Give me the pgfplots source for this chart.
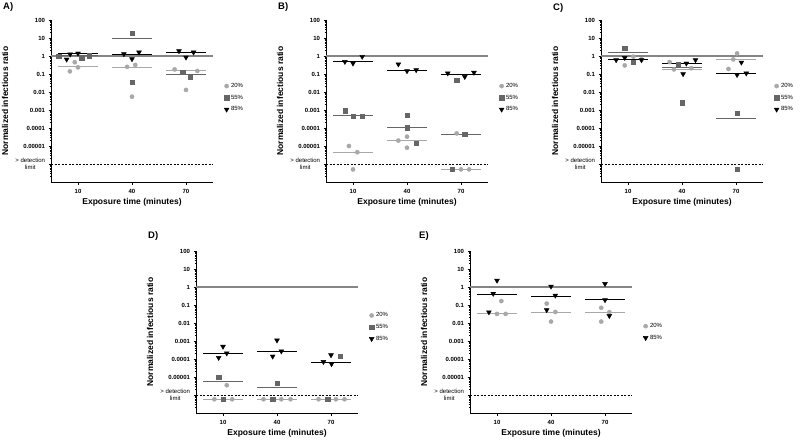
\documentclass[border=0pt]{standalone}
\usepackage{fontspec}
\setmainfont{Liberation Sans}
\usepackage{pgfplots}
\pgfplotsset{compat=1.18}

\definecolor{c20}{HTML}{A8A8A8}
\definecolor{c55}{HTML}{666666}
\definecolor{refline}{HTML}{858585}

\pgfplotsset{
  scale only axis, width=162pt, height=162pt,
  ymin=1e-7, ymax=100,
  xmin=-0.5, xmax=2.5,
  axis x line*=bottom, axis y line*=left,
  axis line style={line width=0.8pt, black},
  unbounded coords=jump,
  xtick={0,1,2}, xticklabels={10,40,70},
  ytick={1e-6,1e-5,1e-4,1e-3,1e-2,1e-1,1,10,100},
  yticklabels={{\mdseries\shortstack{> detection\\limit}},0.00001,0.0001,0.001,0.01,0.1,1,10,100},
  minor ytick={2e-7,3e-7,4e-7,5e-7,6e-7,7e-7,8e-7,9e-7,
    2e-6,3e-6,4e-6,5e-6,6e-6,7e-6,8e-6,9e-6,
    2e-5,3e-5,4e-5,5e-5,6e-5,7e-5,8e-5,9e-5,
    2e-4,3e-4,4e-4,5e-4,6e-4,7e-4,8e-4,9e-4,
    2e-3,3e-3,4e-3,5e-3,6e-3,7e-3,8e-3,9e-3,
    0.02,0.03,0.04,0.05,0.06,0.07,0.08,0.09,
    0.2,0.3,0.4,0.5,0.6,0.7,0.8,0.9,
    2,3,4,5,6,7,8,9,20,30,40,50,60,70,80,90},
  tick align=outside, major tick length=2.5pt, minor tick length=1.2pt,
  tick style={black, line width=0.6pt},
  tick label style={font=\fontsize{6}{6.5}\selectfont\bfseries},
  xticklabel style={yshift=-1.5pt},
  xlabel={Exposure time (minutes)}, ylabel={Normalized infectious ratio},
  every axis x label/.style={at={(axis description cs:0.5,-0.128)},anchor=center,
    font=\fontsize{8.5}{10}\selectfont\bfseries},
  every axis y label/.style={at={(axis description cs:-0.284,0.5)},anchor=center,rotate=90,
    font=\fontsize{8.5}{10}\selectfont\bfseries},
  legend style={draw=none, fill=none, font=\fontsize{6}{7}\selectfont,
    at={(axis description cs:1.068,0.52)}, anchor=west, inner sep=0pt, row sep=2pt},
  legend cell align=left,
  p20/.style={only marks, mark=*, mark size=2.1pt, color=c20},
  p55/.style={only marks, mark=square*, mark size=2.2pt, color=c55},
  p85/.style={only marks, mark=triangle*, mark size=2.8pt, color=black, mark options={rotate=180}},
  med/.style={no marks, line width=1pt, forget plot},
}

% reference lines at 1 and at the detection limit
\newcommand{\reflines}{%
  \addplot[refline, line width=1.2pt, forget plot] coordinates {(-0.5,1) (2.5,1)};
  \addplot[black, line width=0.8pt, dash pattern=on 2pt off 1.5pt, forget plot] coordinates {(-0.5,1e-6) (2.5,1e-6)};
}

\begin{document}
\begin{tikzpicture}
\path[use as bounding box] (0,0) rectangle (800pt,442pt);

% ---------------- A
\begin{semilogyaxis}[at={(51pt,260pt)}, anchor=south west]
\reflines
\addplot[med, c20] coordinates {(-0.37,0.245) (0.37,0.245) (0.5,nan) (0.63,0.235) (1.37,0.235) (1.5,nan) (1.63,0.147) (2.37,0.147)};
\addplot[med, c55] coordinates {(-0.37,1.05) (0.37,1.05) (0.5,nan) (0.63,8.8) (1.37,8.8) (1.5,nan) (1.63,0.1) (2.37,0.1)};
\addplot[med, black] coordinates {(-0.37,1.3) (0.37,1.3) (0.5,nan) (0.63,1.24) (1.37,1.24) (1.5,nan) (1.63,1.6) (2.37,1.6)};
\addplot[p20] coordinates {(-0.15,0.14) (-0.06,0.45) (0.0,0.235) (0.91,0.25) (1.06,0.32) (1.0,0.0055) (1.79,0.18) (2.21,0.147) (2.0,0.013)};
\addplot[p55] coordinates {(-0.36,1.0) (0.07,0.74) (0.21,1.05) (1.0,18.2) (1.0,0.035) (1.94,0.124) (2.08,0.071)};
\addplot[p85] coordinates {(-0.21,0.65) (-0.145,1.25) (0.0,1.4) (0.85,1.29) (1.0,0.68) (1.13,1.6) (1.87,1.9) (2.0,0.84) (2.14,1.6)};
\legend{20\%,55\%,85\%}
\end{semilogyaxis}

% ---------------- B
\begin{semilogyaxis}[at={(326pt,260pt)}, anchor=south west]
\reflines
\addplot[med, c20] coordinates {(-0.37,4.5e-6) (0.37,4.5e-6) (0.5,nan) (0.63,2e-5) (1.37,2e-5) (1.5,nan) (1.63,5e-7) (2.37,5e-7)};
\addplot[med, c55] coordinates {(-0.37,4.7e-4) (0.37,4.7e-4) (0.5,nan) (0.63,1.05e-4) (1.37,1.05e-4) (1.5,nan) (1.63,4.6e-5) (2.37,4.6e-5)};
\addplot[med, black] coordinates {(-0.37,0.48) (0.37,0.48) (0.5,nan) (0.63,0.153) (1.37,0.153) (1.5,nan) (1.63,0.1) (2.37,0.1)};
\addplot[p20] coordinates {(-0.075,1e-5) (0.08,4.5e-6) (0.0,5e-7) (0.84,2e-5) (1.0,3.3e-5) (1.0,8e-6) (1.92,5e-5) (2.0,5e-7) (2.15,5e-7)};
\addplot[p55] coordinates {(-0.15,9.2e-4) (0.0,4.7e-4) (0.17,4.7e-4) (1.0,5.3e-4) (1.0,1.05e-4) (1.17,1.4e-5) (1.92,0.047) (2.07,4.6e-5) (1.84,5e-7)};
\addplot[p85] coordinates {(-0.15,0.48) (0.0,0.39) (0.17,0.92) (0.84,0.35) (1.0,0.146) (1.17,0.167) (1.755,0.11) (2.07,0.07) (2.24,0.12)};
\legend{20\%,55\%,85\%}
\end{semilogyaxis}

% ---------------- C
\begin{semilogyaxis}[at={(601pt,260pt)}, anchor=south west]
\reflines
\addplot[med, c20] coordinates {(-0.37,0.65) (0.37,0.65) (0.5,nan) (0.63,0.18) (1.37,0.18) (1.5,nan) (1.63,0.65) (2.37,0.65)};
\addplot[med, c55] coordinates {(-0.37,1.6) (0.37,1.6) (0.5,nan) (0.63,0.22) (1.37,0.22) (1.5,nan) (1.63,3.5e-4) (2.37,3.5e-4)};
\addplot[med, black] coordinates {(-0.37,0.6) (0.37,0.6) (0.5,nan) (0.63,0.39) (1.37,0.39) (1.5,nan) (1.63,0.11) (2.37,0.11)};
\addplot[p20] coordinates {(-0.06,0.30) (0.1,0.92) (0.25,0.65) (0.77,0.46) (0.85,0.18) (1.17,0.21) (1.86,0.19) (1.95,0.65) (2.02,1.4)};
\addplot[p55] coordinates {(-0.06,2.67) (0.1,0.44) (0.925,0.36) (1.0,0.0026) (2.02,6.5e-4) (2.02,5e-7)};
\addplot[p85] coordinates {(-0.22,0.6) (-0.06,0.8) (0.25,0.6) (1.02,0.1) (1.08,0.39) (1.25,0.6) (2.02,0.09) (2.1,0.44) (2.19,0.11)};
\legend{20\%,55\%,85\%}
\end{semilogyaxis}

% ---------------- D
\begin{semilogyaxis}[at={(196pt,29pt)}, anchor=south west, legend style={at={(axis description cs:1.068,0.53)}}]
\reflines
\addplot[med, c20] coordinates {(-0.37,5.8e-7) (0.37,5.8e-7) (0.5,nan) (0.63,5.8e-7) (1.37,5.8e-7) (1.5,nan) (1.63,5.8e-7) (2.37,5.8e-7)};
\addplot[med, c55] coordinates {(-0.37,5.4e-6) (0.37,5.4e-6) (0.5,nan) (0.63,2.6e-6) (1.37,2.6e-6) (1.5,nan) (1.63,6.5e-5) (2.37,6.5e-5)};
\addplot[med, black] coordinates {(-0.37,2e-4) (0.37,2e-4) (0.5,nan) (0.63,2.6e-4) (1.37,2.6e-4) (1.5,nan) (1.63,6.6e-5) (2.37,6.6e-5)};
\addplot[p20] coordinates {(0.07,3.5e-6) (-0.16,5.8e-7) (0.17,5.8e-7) (0.75,5.8e-7) (1.08,5.8e-7) (1.25,5.8e-7) (1.77,5.8e-7) (2.09,5.8e-7) (2.25,5.8e-7)};
\addplot[p55] coordinates {(-0.08,1e-5) (0.0,5.8e-7) (1.0,4.7e-6) (0.92,5.8e-7) (2.17,1.4e-4) (1.94,5.8e-7)};
\addplot[p85] coordinates {(0.0,4.9e-4) (0.07,2.1e-4) (-0.08,1.18e-4) (1.0,1.1e-3) (1.08,2.7e-4) (0.92,1.4e-4) (1.86,7e-5) (2.0,1.65e-4) (2.01,5.3e-5)};
\legend{20\%,55\%,85\%}
\end{semilogyaxis}

% ---------------- E
\begin{semilogyaxis}[at={(470pt,29pt)}, anchor=south west, legend style={at={(axis description cs:1.068,0.50)}}]
\reflines
\addplot[med, c20] coordinates {(-0.37,0.032) (0.37,0.032) (0.5,nan) (0.63,0.04) (1.37,0.04) (1.5,nan) (1.63,0.04) (2.37,0.04)};
\addplot[med, black] coordinates {(-0.37,0.4) (0.37,0.4) (0.5,nan) (0.63,0.31) (1.37,0.31) (1.5,nan) (1.63,0.19) (2.37,0.19)};
\addplot[p20] coordinates {(0.08,0.165) (0.0,0.032) (0.16,0.032) (0.92,0.12) (1.08,0.041) (1.0,0.012) (1.93,0.07) (2.08,0.04) (1.93,0.012)};
\addplot[p85] coordinates {(0.0,2.3) (-0.07,0.43) (-0.15,0.04) (1.0,1.08) (1.08,0.34) (0.92,0.053) (2.0,1.5) (2.0,0.19) (2.08,0.025)};
\legend{20\%,85\%}
\end{semilogyaxis}

% panel letters
\begin{scope}[every node/.style={anchor=west, font=\fontsize{9.5}{11}\selectfont\bfseries, inner sep=0pt}]
\node at (3pt,434.5pt) {A)};
\node at (278pt,434.5pt) {B)};
\node at (553pt,433.5pt) {C)};
\node at (148pt,206pt) {D)};
\node at (419pt,206pt) {E)};
\end{scope}
\end{tikzpicture}
\end{document}
